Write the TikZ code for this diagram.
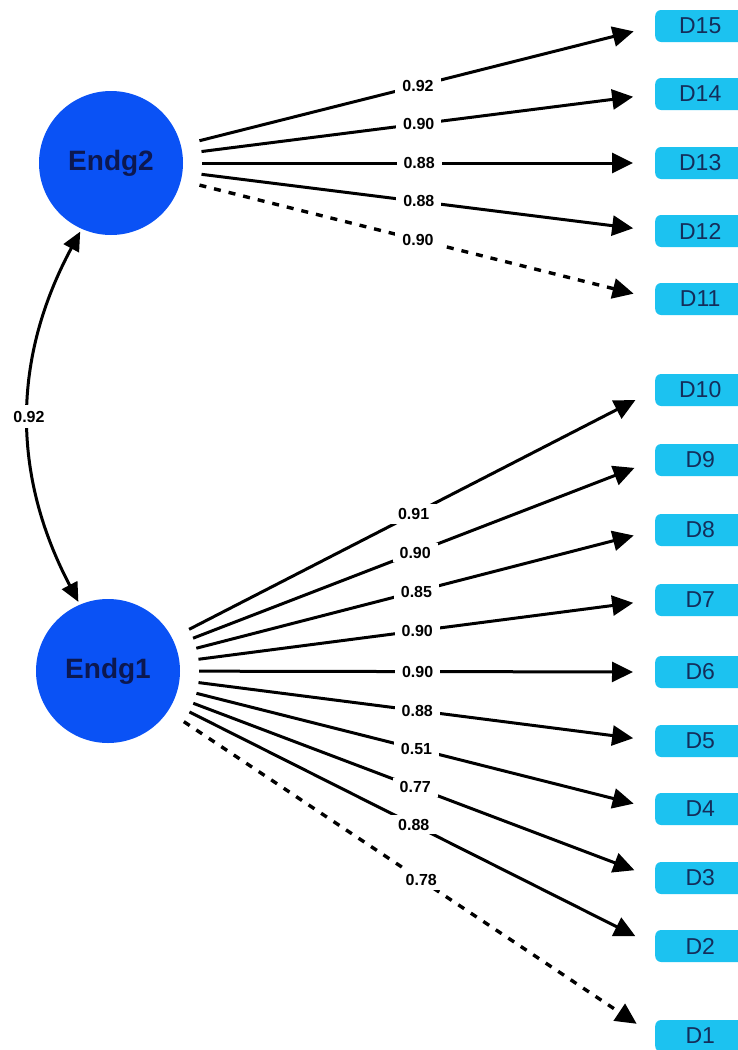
\documentclass[tikz,border=0pt]{standalone}
\usepackage{fontspec}
\setmainfont{Liberation Sans}
\usetikzlibrary{arrows.meta}
\definecolor{circfill}{RGB}{10,82,245}
\definecolor{boxfill}{RGB}{28,194,240}
\definecolor{navy}{RGB}{12,24,80}
\definecolor{boxtext}{RGB}{20,45,90}
\begin{document}
\begin{tikzpicture}[x=1pt,y=-1pt,
  latent/.style={circle, fill=circfill, minimum size=144pt, inner sep=0pt, text=navy,
    font=\fontsize{28}{28}\selectfont\bfseries},
  ind/.style={rounded corners=6pt, fill=boxfill, minimum width=90pt, minimum height=32pt,
    inner sep=0pt, text=boxtext, font=\fontsize{23}{23}\selectfont, anchor=west},
  load/.style={line width=3pt, -{Triangle[length=21pt,width=20pt]}, shorten >=22pt, shorten <=19pt},
  dload/.style={load, line width=3.4pt, dash pattern=on 7pt off 8pt},
  lbl/.style={fill=white, inner xsep=7pt, inner ysep=4pt, text=black,
    font=\fontsize{16}{16}\selectfont\bfseries},
  corr/.style={line width=3pt, {Triangle[length=19pt,width=17pt]}-{Triangle[length=19pt,width=17pt]},
    shorten >=3pt, shorten <=3pt}
]
\useasboundingbox (0,0) rectangle (738,1050);
\fill[white] (0,0) rectangle (738,1050);

\node[latent] (E2) at (111,163) {Endg2};
\node[latent] (E1) at (108,671) {Endg1};

\node[ind] (D15) at (655,26) {D15};
\node[ind] (D14) at (655,94) {D14};
\node[ind] (D13) at (655,163) {D13};
\node[ind] (D12) at (655,231) {D12};
\node[ind] (D11) at (655,299) {D11};
\node[ind] (D10) at (655,390) {D10};
\node[ind] (D9) at (655,460) {D9};
\node[ind] (D8) at (655,530) {D8};
\node[ind] (D7) at (655,600) {D7};
\node[ind] (D6) at (655,672) {D6};
\node[ind] (D5) at (655,741) {D5};
\node[ind] (D4) at (655,809) {D4};
\node[ind] (D3) at (655,878) {D3};
\node[ind] (D2) at (655,946) {D2};
\node[ind] (D1) at (655,1036) {D1};

\draw[load] (E2) -- node[lbl] {0.92} (D15.west);
\draw[load] (E2) -- node[lbl] {0.90} (D14.west);
\draw[load] (E2) -- node[lbl] {0.88} (D13.west);
\draw[load] (E2) -- node[lbl] {0.88} (D12.west);
\draw[dload] (E2) -- node[lbl] {0.90} (D11.west);

\draw[load] (E1) -- node[lbl] {0.91} (D10.west);
\draw[load] (E1) -- node[lbl] {0.90} (D9.west);
\draw[load] (E1) -- node[lbl] {0.85} (D8.west);
\draw[load] (E1) -- node[lbl] {0.90} (D7.west);
\draw[load] (E1) -- node[lbl] {0.90} (D6.west);
\draw[load] (E1) -- node[lbl] {0.88} (D5.west);
\draw[load] (E1) -- node[lbl] {0.51} (D4.west);
\draw[load] (E1) -- node[lbl] {0.77} (D3.west);
\draw[load] (E1) -- node[lbl] {0.88} (D2.west);
\draw[dload] (E1) -- node[lbl, pos=0.52] {0.78} (D1.west);

\draw[corr] (E2.246) to[bend right=28] node[lbl, inner xsep=1pt, inner ysep=6pt] {0.92} (E1.113);
\end{tikzpicture}
\end{document}
